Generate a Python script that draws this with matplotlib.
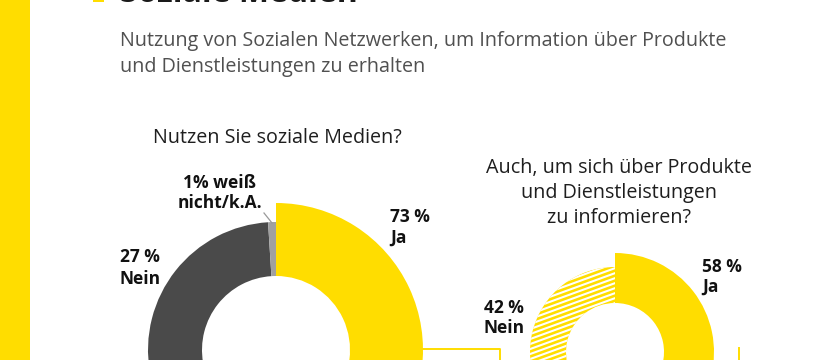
import numpy as np
import matplotlib
matplotlib.use('Agg')
import matplotlib.pyplot as plt
from matplotlib.patches import Rectangle

plt.rcParams['font.family'] = ['Open Sans', 'DejaVu Sans']

# data
title = 'Soziale Medien'
subtitle = ['Nutzung von Sozialen Netzwerken, um Information über Produkte',
            'und Dienstleistungen zu erhalten']
q1 = 'Nutzen Sie soziale Medien?'
q2 = ['Auch, um sich über Produkte', 'und Dienstleistungen', 'zu informieren?']

use_labels = ['Ja', 'Nein', 'weiß nicht/k.A.']
use_values = [73, 27, 1]
info_labels = ['Ja', 'Nein']
info_values = [58, 42]

yellow = '#FFDD00'
dark = '#4a4a4a'
light = '#a0a0a0'

W, H = 820, 360
fig = plt.figure(figsize=(8.2, 3.6), dpi=100)
ax = fig.add_axes([0, 0, 1, 1])


def py(y):
    # pixel row from top -> data y
    return H - y


# left donut: "Ja" ring drawn bigger than the rest
c1 = (276, py(350))
w1, _ = ax.pie(use_values, colors=[yellow, 'none', 'none'], startangle=90,
               counterclock=False, radius=147, center=c1,
               wedgeprops=dict(width=147 - 74, linewidth=0))
w2, _ = ax.pie(use_values, colors=['none', dark, light], startangle=90,
               counterclock=False, radius=128, center=c1,
               wedgeprops=dict(width=128 - 74, linewidth=0))

# right donut
c2 = (615, py(352))
w3, _ = ax.pie(info_values, colors=[yellow, 'none'], startangle=90,
               counterclock=False, radius=99, center=c2,
               wedgeprops=dict(width=99 - 49, linewidth=0))
w4, _ = ax.pie(info_values, colors=['none', yellow], startangle=90,
               counterclock=False, radius=85, center=c2,
               wedgeprops=dict(width=85 - 49, linewidth=0))

# white stripes on the "Nein" wedge
nein = w4[1]
xs = np.array([500, 640])
slope = np.tan(np.radians(20))
for off in np.arange(-80, 160, 5):
    ln, = ax.plot(xs, (xs - 500) * slope + off, color='white', lw=1.5,
                  solid_capstyle='butt')
    ln.set_clip_path(nein)

ax.set_xlim(0, W)
ax.set_ylim(0, H)
ax.set_aspect('auto')
ax.axis('off')

# side bar, title marker (title mostly above the visible area)
ax.add_patch(Rectangle((0, 0), 30, H, color=yellow, lw=0))
ax.add_patch(Rectangle((93, py(2)), 11, 12, color=yellow, lw=0, clip_on=True))
ax.text(120, py(2), title, fontsize=23, fontweight='bold', color='#1a1a1a',
        va='baseline', ha='left')

reg = dict(fontsize=14.2, va='baseline')
for i, line in enumerate(subtitle):
    ax.text(120, py(46 + 26 * i), line, color='#505050', ha='left', **reg)

ax.text(277, py(143), q1, color='#1e1e1e', ha='center', **reg)
for i, line in enumerate(q2):
    ax.text(619, py(173 + 25 * i), line, color='#1e1e1e', ha='center', **reg)

lab = dict(fontsize=12.5, fontweight='bold', color='#111111', va='baseline')
ax.text(390, py(222), '%d %%' % use_values[0], ha='left', **lab)
ax.text(390, py(243), use_labels[0], ha='left', **lab)
ax.text(120, py(262), '%d %%' % use_values[1], ha='left', **lab)
ax.text(120, py(284), use_labels[1], ha='left', **lab)
ax.text(220, py(188), '%d%% weiß' % use_values[2], ha='center', **lab)
ax.text(220, py(208), 'nicht/k.A.', ha='center', **lab)
ax.plot([264, 272], [py(213), py(223)], color='#999999', lw=0.9)

ax.text(702, py(272), '%d %%' % info_values[0], ha='left', **lab)
ax.text(702, py(292), info_labels[0], ha='left', **lab)
ax.text(484, py(313), '%d %%' % info_values[1], ha='left', **lab)
ax.text(484, py(333), info_labels[1], ha='left', **lab)

# connector frame lines
ax.plot([422, 500, 500], [py(349), py(349), py(362)], color=yellow, lw=1.4)
ax.plot([739, 739], [py(348), py(362)], color=yellow, lw=1.4)

fig.savefig('out.png', dpi=100)
